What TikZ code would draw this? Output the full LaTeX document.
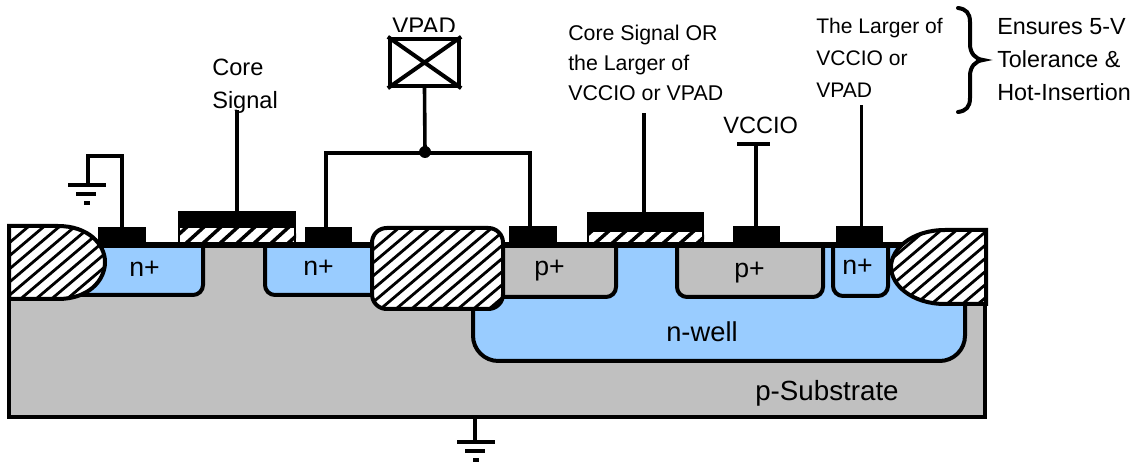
\documentclass[tikz,border=0pt]{standalone}
\usepackage{fontspec}
\setmainfont{Liberation Sans}
\definecolor{subgray}{HTML}{C0C0C0}
\definecolor{wellblue}{HTML}{99CCFF}
\newcommand{\txt}[1]{\fontsize{#1}{#1}\selectfont}
\tikzset{
  x=0.75pt,y=-0.75pt,
  line join=round,
  region/.style={draw=black,line width=3pt,rounded corners=7.5pt},
  wire/.style={draw=black,line width=2.7pt},
  gnd/.style={draw=black,line width=3pt},
  contact/.style 2 args={fill=black,draw=none,inner sep=0pt,minimum width=#1*0.75pt,minimum height=#2*0.75pt},
  dot/.style={fill=black,circle,draw=none,inner sep=0pt,minimum size=9pt},
  lab/.style={inner sep=0pt,anchor=base west,text=black},
  padbox/.style={draw=black,line width=3pt,fill=white,inner sep=0pt,minimum width=52pt,minimum height=35.5pt},
  oxide/.style={draw=black,line width=3pt},
  hatch/.style={line width=2.1pt}
}
\begin{document}
\begin{tikzpicture}
\useasboundingbox (0,0) rectangle (1138,466);
% substrate
\fill[subgray] (9,245) rectangle (985,417);
% well and diffusions
\draw[region,fill=wellblue,rounded corners=19pt] (473,245) -- (473,361) -- (965,361) -- (965,245);
\draw[region,fill=wellblue] (60,245) -- (60,295) -- (203,295) -- (203,245);
\draw[region,fill=wellblue] (265,245) -- (265,295) -- (390,295) -- (390,245);
\draw[region,fill=subgray] (490,245) -- (490,297) -- (616,297) -- (616,245);
\draw[region,fill=subgray] (677,245) -- (677,297) -- (823,297) -- (823,245);
\draw[region,fill=wellblue] (833,245) -- (833,296) -- (888,296) -- (888,245);
% substrate outline
\draw[line width=3pt] (9,245) -- (9,417) -- (985,417) -- (985,245);
% gates
\begin{scope}
  \clip (178,227) rectangle (296,245);
  \fill[white] (178,227) rectangle (296,245);
  \foreach \k in {0,...,8}{\draw[hatch,line width=2.6pt] (166+\k*17,246) -- ++(22,-20);}
\end{scope}
\draw[line width=2.2pt] (179,227) -- (179,245) (295,227) -- (295,245);
\node[contact={118}{17}] (g1) at (237,219.5) {};
\begin{scope}
  \clip (587,232) rectangle (704,245);
  \fill[white] (587,232) rectangle (704,245);
  \foreach \k in {0,...,8}{\draw[hatch,line width=2.6pt] (575+\k*17,246) -- ++(18,-16);}
\end{scope}
\draw[line width=2.2pt] (588,232) -- (588,245) (703,232) -- (703,245);
\node[contact={117}{20}] (g2) at (645.5,222) {};
% contacts
\node[contact={48}{19}] (c1) at (122,236.5) {};
\node[contact={47}{19}] (c2) at (328.5,236.5) {};
\node[contact={48}{20}] (c3) at (533,236) {};
\node[contact={47}{20}] (c4) at (756.5,236) {};
\node[contact={47}{20}] (c5) at (859.5,236) {};
% surface line
\draw[line width=4pt] (9,245) -- (985,245);
% oxides
\path[save path=\oxl] (9,226) -- (58,226) .. controls (88,226) and (105,244) .. (105,262) .. controls (105,281) and (88,299) .. (58,299) -- (9,299) -- cycle;
\begin{scope}
  \clip[use path=\oxl];
  \fill[white] (0,220) rectangle (110,305);
  \foreach \k in {0,...,14}{\draw[hatch] (-70+\k*15.5,310) -- ++(118,-100);}
\end{scope}
\draw[oxide,use path=\oxl];
\path[save path=\oxm,rounded corners=11pt] (372,228) -- (503,228) -- (503,309) -- (372,309) -- cycle;
\begin{scope}
  \clip[use path=\oxm];
  \fill[white] (360,220) rectangle (510,315);
  \foreach \k in {0,...,18}{\draw[hatch] (290+\k*15.5,320) -- ++(130,-110);}
\end{scope}
\draw[oxide,use path=\oxm];
\path[save path=\oxr] (986,230) -- (945,230) .. controls (912,230) and (891,249) .. (891,267) .. controls (891,285) and (912,304) .. (945,304) -- (986,304) -- cycle;
\begin{scope}
  \clip[use path=\oxr];
  \fill[white] (885,225) rectangle (990,310);
  \foreach \k in {0,...,15}{\draw[hatch] (810+\k*15.5,315) -- ++(112,-95);}
\end{scope}
\draw[oxide,use path=\oxr];
% pad
\begin{scope}
  \clip (380,0) rectangle (470,32);
  \node[lab] at (392,35) {\txt{18}VPAD};
\end{scope}
\node[padbox] (pad) at (424.5,62.5) {};
\draw[line width=3pt] (pad.north west) -- (pad.south east) (pad.north east) -- (pad.south west);
\node[dot] (jn) at (425,152) {};
\draw[wire] (pad.south) -- (jn.center);
\coordinate (wl) at (326,153);
\coordinate (wr) at (530,153);
\draw[wire] (c2.north -| wl) -- (wl) -- (wr) -- (c3.north -| wr);
% ground at c1
\coordinate (g1a) at (122,156);
\coordinate (g1b) at (88,156);
\coordinate (g1c) at (88,184);
\draw[wire] (c1.north) -- (g1a) -- (g1b) -- (g1c);
\draw[gnd] (68,185) -- (106,185) (76,194) -- (96,194);
\fill (84,201) rectangle (90,205);
% signals
\coordinate (s1) at (237,110);
\draw[wire] (g1.north) -- (s1);
\coordinate (s2) at (644,113);
\draw[wire] (g2.north -| s2) -- (s2);
\coordinate (s3) at (756,144);
\draw[wire] (c4.north -| s3) -- (s3);
\draw[wire] (737,144) -- (770,144);
\coordinate (s4) at (861.5,105);
\draw[wire] (c5.north -| s4) -- (s4);
% bottom ground
\coordinate (g0) at (475,443);
\draw[gnd] (475,417) -- (g0);
\draw[gnd] (457,442) -- (495,442) (465,451) -- (485,451);
\fill (473,458) rectangle (479,462);
% brace
\draw[line width=3pt,line cap=round] (958,8) .. controls (966,9) and (970,13) .. (970,22) -- (970,44) .. controls (970,53) and (975,59) .. (983,60) .. controls (975,61) and (970,67) .. (970,76) -- (970,98) .. controls (970,107) and (966,111) .. (958,112);
% labels
\node[lab] at (212,76) {\txt{17.7}Core};
\node[lab] at (212,109) {\txt{17.7}Signal};
\node[lab] at (568,41) {\txt{16}Core Signal OR};
\node[lab] at (568,71) {\txt{16}the Larger of};
\node[lab] at (568,101) {\txt{16}VCCIO or VPAD};
\node[lab] at (816,34) {\txt{15.8}The Larger of};
\node[lab] at (816,66) {\txt{15.8}VCCIO or};
\node[lab] at (816,98) {\txt{15.8}VPAD};
\node[lab] at (997,35) {\txt{17.5}Ensures 5-V};
\node[lab] at (997,68) {\txt{17.5}Tolerance \&};
\node[lab] at (997,101) {\txt{17.5}Hot-Insertion};
\node[lab] at (723,134) {\txt{17.7}VCCIO};
\node[lab] at (129,277) {\txt{20}n+};
\node[lab] at (303,276) {\txt{20}n+};
\node[lab] at (534,276) {\txt{20}p+};
\node[lab] at (734,278) {\txt{20}p+};
\node[lab] at (842,275) {\txt{20}n+};
\node[lab] at (666,342) {\txt{20.5}n-well};
\node[lab] at (755,400) {\txt{20.8}p-Substrate};
\end{tikzpicture}
\end{document}
